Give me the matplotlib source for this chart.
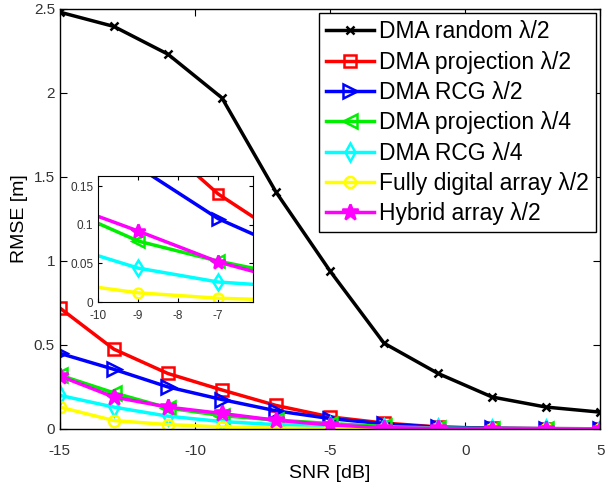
import numpy as np
import matplotlib
matplotlib.use("Agg")
import matplotlib.pyplot as plt

plt.rcParams['font.family'] = ['Liberation Sans', 'DejaVu Sans']
plt.rcParams['axes.unicode_minus'] = False

snr_db = [-15, -13, -11, -9, -7, -5, -3, -1, 1, 3, 5]

rmse_random_l2 = [2.48, 2.395, 2.23, 1.97, 1.41, 0.94, 0.51, 0.33, 0.19, 0.13, 0.10]
rmse_proj_l2 = [0.72, 0.475, 0.33, 0.232, 0.14, 0.072, 0.035, 0.012, 0.004, 0.002, 0.001]
rmse_rcg_l2 = [0.45, 0.355, 0.25, 0.175, 0.108, 0.062, 0.03, 0.01, 0.004, 0.002, 0.001]
rmse_proj_l4 = [0.32, 0.215, 0.125, 0.079, 0.053, 0.032, 0.015, 0.005, 0.002, 0.001, 0.001]
rmse_rcg_l4 = [0.20, 0.13, 0.076, 0.044, 0.026, 0.019, 0.008, 0.003, 0.001, 0.001, 0.0]
rmse_digital_l2 = [0.13, 0.05, 0.026, 0.012, 0.005, 0.002, 0.001, 0.0, 0.0, 0.0, 0.0]
rmse_hybrid_l2 = [0.315, 0.19, 0.13, 0.092, 0.052, 0.024, 0.008, 0.003, 0.001, 0.001, 0.0]

series = [
    ("DMA random \u03bb/2", rmse_random_l2, "k", "x", "k", 0.8),
    ("DMA projection \u03bb/2", rmse_proj_l2, "r", "s", "none", 1.0),
    ("DMA RCG \u03bb/2", rmse_rcg_l2, "b", ">", "none", 1.2),
    ("DMA projection \u03bb/4", rmse_proj_l4, "#00ee00", "<", "none", 1.2),
    ("DMA RCG \u03bb/4", rmse_rcg_l4, "cyan", "d", "none", 1.1),
    ("Fully digital array \u03bb/2", rmse_digital_l2, "yellow", "o", "none", 1.0),
    ("Hybrid array \u03bb/2", rmse_hybrid_l2, "magenta", "*", "magenta", 1.5),
]


def draw_curves(ax, ms):
    for label, vals, color, marker, face, scale in series:
        ax.plot(snr_db, vals, color=color, marker=marker, markersize=ms * scale,
                markerfacecolor=face, markeredgewidth=1.8, linewidth=2.5,
                label=label)


fig = plt.figure(figsize=(6.1, 4.88), dpi=100)
ax = fig.add_axes([0.098, 0.121, 0.886, 0.861])
draw_curves(ax, 8)

ax.set_xlim(-15, 5)
ax.set_ylim(0, 2.5)
ax.set_xticks([-15, -10, -5, 0, 5])
ax.set_yticks([0, 0.5, 1, 1.5, 2, 2.5])
ax.set_yticklabels(["0", "0.5", "1", "1.5", "2", "2.5"])
ax.tick_params(direction="in", top=True, right=True, labelsize=11, length=5,
               colors="k", labelcolor="#333333")
ax.tick_params(axis="x", pad=11)
ax.set_xlabel("SNR [dB]", fontsize=14, labelpad=5)
ax.set_ylabel("RMSE [m]", fontsize=14)
for sp in ax.spines.values():
    sp.set_linewidth(1.0)

leg = ax.legend(loc="upper right", fontsize=16.5, numpoints=1, handlelength=2.1,
                labelspacing=0.32, handletextpad=0.2, borderpad=0.3,
                borderaxespad=0.2, fancybox=False, framealpha=1)
leg.get_frame().set_edgecolor("k")
leg.get_frame().set_linewidth(1.0)

# zoomed inset
axi = fig.add_axes([0.1607, 0.381, 0.254, 0.258])
draw_curves(axi, 7)
axi.set_xlim(-10, -6.13)
axi.set_ylim(0, 0.163)
axi.set_xticks([-10, -9, -8, -7])
axi.set_yticks([0, 0.05, 0.1, 0.15])
axi.set_yticklabels(["0", "0.05", "0.1", "0.15"])
axi.tick_params(direction="in", top=True, right=True, labelsize=8.5, length=3,
                labelcolor="#333333")
axi.tick_params(axis="x", pad=6)

fig.savefig("out.png", dpi=100)
